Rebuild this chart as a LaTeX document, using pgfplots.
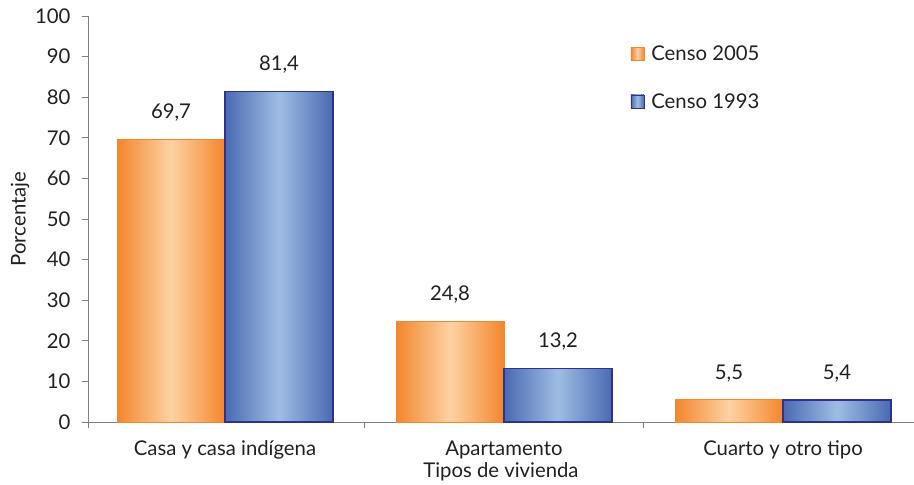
\documentclass[border=0pt]{standalone}
\usepackage{fontspec}
\setmainfont{Lato}
\usepackage{pgfplots}
\pgfplotsset{compat=1.18}

\definecolor{oEdge}{HTML}{F4862D}
\definecolor{oMid}{HTML}{FDD2A3}
\definecolor{bEdge}{HTML}{4A6AB2}
\definecolor{bMid}{HTML}{9FBDE3}
\definecolor{bLine}{HTML}{2E3192}
\definecolor{txt}{HTML}{231F20}
\definecolor{axgray}{HTML}{7F7F7F}

\pgfplotsset{
  sq legend/.style={legend image code/.code={
      \draw[##1, line width=0.8pt] (0pt,-6.5pt) rectangle (13pt,6.5pt);}},
  % each bar is its own plot so that the shading is per bar
  bar2005/.style={ybar, bar width=0.387, bar shift=-0.1935, draw=oEdge, line width=1pt,
    left color=oEdge, right color=oEdge, middle color=oMid,
    nodes near coords, point meta=y, sq legend,
    nodes near coords style={xshift=-54pt}},
  bar1993/.style={ybar, bar width=0.387, bar shift=0.1935, draw=bLine, line width=1.2pt,
    left color=bEdge, right color=bEdge, middle color=bMid,
    nodes near coords, point meta=y, sq legend,
    nodes near coords style={xshift=54pt}},
}

\begin{document}
\begin{tikzpicture}[font=\fontsize{20.3}{24}\selectfont, text=txt]
\begin{axis}[
    at={(0,0)}, anchor=south west,
    scale only axis, width=826pt, height=406pt,
    xmin=-0.491, xmax=2.4695, ymin=0, ymax=100,
    axis lines=left,
    axis line style={-, axgray, line width=0.9pt},
    tick align=outside,
    major tick length=6pt,
    tick style={axgray, line width=0.9pt},
    ytick={0,10,...,100},
    xtick={-0.491,0.5,1.5},
    xticklabels={},
    extra x ticks={0,1,2},
    extra x tick labels={Casa y casa indígena, Apartamento, Cuarto y otro tipo},
    extra x tick style={major tick length=0pt, xticklabel style={yshift=-15pt}},
    /pgf/number format/assume math mode=true,
    /pgf/number format/.cd, use comma, fixed, fixed zerofill, precision=1,
    /pgfplots/.cd,
    yticklabel style={/pgf/number format/fixed zerofill=false, /pgf/number format/precision=0, xshift=-8pt},
    xlabel={Tipos de vivienda},
    xlabel style={yshift=10pt},
    ylabel={Porcentaje},
    ylabel style={at={(axis description cs:-0.0823,0.5)}, anchor=center},
    legend style={at={(0.653,0.936)}, anchor=north west, draw=none, fill=none,
      row sep=27pt, font=\fontsize{20.3}{24}\selectfont,
      nodes={inner xsep=7pt}},
    legend cell align=left,
    nodes near coords style={text=txt, yshift=14pt},
  ]
  \addplot[bar2005] coordinates {(0,69.7)};
  \addplot[bar1993] coordinates {(0,81.4)};
  \addplot[bar2005, forget plot] coordinates {(1,24.8)};
  \addplot[bar1993, forget plot] coordinates {(1,13.2)};
  \addplot[bar2005, forget plot] coordinates {(2,5.5)};
  \addplot[bar1993, forget plot] coordinates {(2,5.4)};
  \legend{Censo 2005, Censo 1993}
\end{axis}
\pgfresetboundingbox
\useasboundingbox (-88pt,-63pt) rectangle (826pt,422pt);
\end{tikzpicture}
\end{document}
